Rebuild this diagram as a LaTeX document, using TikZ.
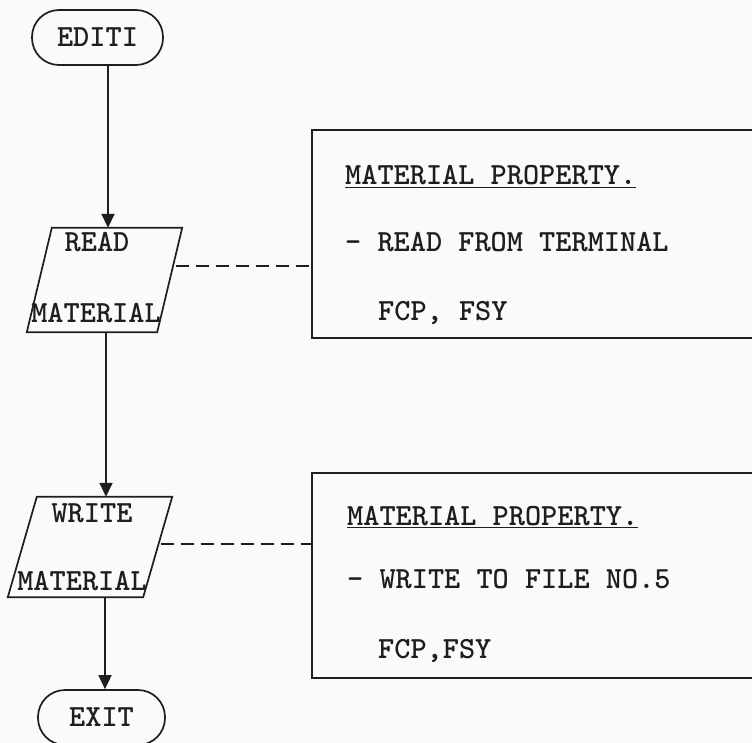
\documentclass[tikz,border=0pt]{standalone}
\usetikzlibrary{arrows.meta,calc}
\definecolor{ink}{RGB}{30,30,30}
\definecolor{paper}{RGB}{250,250,248}
\begin{document}
\begin{tikzpicture}[x=1pt,y=-1pt,
  every node/.style={font=\fontsize{30.8}{36}\selectfont\ttfamily\bfseries, text=ink},
  ln/.style={line width=1.7pt, draw=ink},
  term/.style={ln, rectangle, rounded corners=27pt, minimum height=55pt, inner sep=0},
  parabody/.style={rectangle, inner sep=0},
  infobox/.style={ln, rectangle, inner sep=0},
  lbl/.style={inner sep=0},
  arr/.style={ln, -{Triangle[length=14pt,width=13pt]}},
  dashline/.style={ln, dash pattern=on 13pt off 7pt}
]
\useasboundingbox (0,0) rectangle (752,743);
\fill[paper] (0,0) rectangle (752,743);
\clip (0,0) rectangle (752,743);

% flowchart shapes
\node[term, minimum width=131pt] (editi) at (97.5,37.5) {EDITI};
% parallelogram bodies (top edge length x height), outline drawn below
\node[parabody, minimum width=130pt, minimum height=104pt] (read) at (104.5,280) {};
\node[parabody, minimum width=135pt, minimum height=100pt] (write) at (90,547) {};
\draw[ln, line join=miter]
  ($(read.north west)+(12.5,0)$) -- ($(read.north east)+(12.5,0)$) --
  ($(read.south east)+(-12.5,0)$) -- ($(read.south west)+(-12.5,0)$) -- cycle;
\draw[ln, line join=miter]
  ($(write.north west)+(14.5,0)$) -- ($(write.north east)+(14.5,0)$) --
  ($(write.south east)+(-14.5,0)$) -- ($(write.south west)+(-14.5,0)$) -- cycle;
\node[term, minimum width=127pt] (exit) at (101.5,717.5) {EXIT};

\node[lbl, anchor=base] (readt) at (97,252) {READ};
\node[lbl, anchor=base] (readm) at (96,322) {MATERIAL};
\node[lbl, anchor=base] (writet) at (92,522) {WRITE};
\node[lbl, anchor=base] (writem) at (82,590) {MATERIAL};

% information boxes
\node[infobox, minimum width=488pt, minimum height=208pt] (box1) at (556,234) {};
\node[infobox, minimum width=488pt, minimum height=205pt] (box2) at (556,575.5) {};

\node[lbl, anchor=base west] (b1a) at (345,185) {\underline{MATERIAL PROPERTY.}};
\node[lbl, anchor=base west] (b1b) at (345,252) {- READ FROM TERMINAL};
\node[lbl, anchor=base west] (b1c) at (378,320) {FCP, FSY};
\node[lbl, anchor=base west] (b2a) at (347,525) {\underline{MATERIAL PROPERTY.}};
\node[lbl, anchor=base west] (b2b) at (347,588) {- WRITE TO FILE NO.5};
\node[lbl, anchor=base west] (b2c) at (378,658) {FCP,FSY};

% connectors
\coordinate (sp1) at (108,0);
\coordinate (sp2) at (106,0);
\coordinate (sp3) at (105,0);
\coordinate (rd) at ($(read.east)+(6,-14)$);
\coordinate (wd) at ($(write.east)+(3,-3)$);
\draw[arr] (editi.south -| sp1) -- (read.north -| sp1);
\draw[arr] (read.south -| sp2) -- (write.north -| sp2);
\draw[arr] (write.south -| sp3) -- (exit.north -| sp3);
\draw[dashline] (rd) -- (rd -| box1.west);
\draw[dashline] (wd) -- (wd -| box2.west);
\end{tikzpicture}
\end{document}
